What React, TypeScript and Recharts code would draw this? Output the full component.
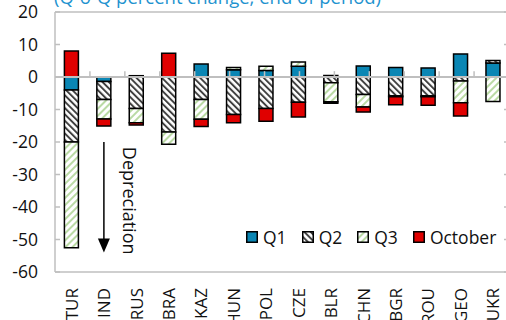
import React from 'react';
import {
  BarChart,
  Bar,
  XAxis,
  YAxis,
  ReferenceLine,
  ReferenceDot,
  Legend,
} from 'recharts';

// Exchange-rate change by quarter, percent (Q-o-Q, end of period)
const categories = ['TUR', 'IND', 'RUS', 'BRA', 'KAZ', 'HUN', 'POL', 'CZE', 'BLR', 'CHN', 'BGR', 'ROU', 'GEO', 'UKR'];
const q1 = [-4, -1.4, 0.4, 0, 4, 2.2, 2, 3.3, 0.5, 3.4, 2.9, 2.8, 7.1, 4.3];
const q2 = [-16, -5.5, -9.7, -16.9, -6.9, -11.5, -9.7, -7.8, -1.8, -5.4, -5.8, -5.8, -1.2, 0.8];
const q3 = [-32.5, -6, -4.4, -3.8, -6.1, 0.7, 1.3, 1.3, -5.8, -3.8, -0.3, -0.3, -6.7, -7.5];
const october = [8, -2.2, -0.7, 7.3, -2.2, -2.6, -3.9, -4.5, -0.5, -1.6, -2.4, -2.6, -4.1, 0];
const yTicks = [20, 10, 0, -10, -20, -30, -40, -50, -60];

const data = categories.map((name, i) => ({
  name,
  q1: q1[i],
  q2: q2[i],
  q3: q3[i],
  oct: october[i],
}));

const FONT = '"Open Sans", "Noto Sans", sans-serif';
const FRAME = '#bfbfbf';
const TEXT = '#111';

const series = [
  { key: 'q1', name: 'Q1', fill: '#0a86b4' },
  { key: 'q2', name: 'Q2', fill: 'url(#hatchQ2)' },
  { key: 'q3', name: 'Q3', fill: 'url(#hatchQ3)' },
  { key: 'oct', name: 'October', fill: '#e00000' },
];

const CategoryTick = (props: any) => {
  const { x, y, payload } = props;
  return (
    <text
      x={x}
      y={y}
      transform={`rotate(-90 ${x} ${y})`}
      textAnchor="end"
      dominantBaseline="central"
      fontSize={17}
      fontFamily={FONT}
      fill={TEXT}
    >
      {payload.value}
    </text>
  );
};

const DownArrow = (p: any) => {
  const { x1, y1, x2, y2 } = p;
  const head = 14;
  return (
    <g>
      <line x1={x1} y1={y1} x2={x2} y2={y2 - head + 1} stroke="#000" strokeWidth={1.5} />
      <path d={`M${x2 - 6},${y2 - head} L${x2 + 6},${y2 - head} L${x2},${y2} Z`} fill="#000" />
    </g>
  );
};

const VerticalNote = (p: any) => {
  const { cx, cy } = p;
  return (
    <text
      x={cx}
      y={cy}
      transform={`rotate(90 ${cx} ${cy})`}
      dominantBaseline="central"
      fontSize={18}
      fontFamily={FONT}
      fill={TEXT}
    >
      Depreciation
    </text>
  );
};

const LegendContent = (props: any) => {
  const payload: any[] = props.payload || [];
  const entries = series.map((s) => {
    const found = payload.find((p: any) => p.value === s.name);
    return { value: s.name, color: found && found.color ? found.color : s.fill };
  });
  return (
    <div style={{ display: 'flex', alignItems: 'center', gap: 15, fontFamily: FONT, fontSize: 17.5, color: TEXT, whiteSpace: 'nowrap' }}>
      {entries.map((entry) => (
        <span key={entry.value} style={{ display: 'flex', alignItems: 'center', gap: 5 }}>
          <svg width={12} height={12} style={{ display: 'block' }}>
            <rect x={0.75} y={0.75} width={10.5} height={10.5} fill={entry.color} stroke="#000" strokeWidth={1.5} />
          </svg>
          <span>{entry.value}</span>
        </span>
      ))}
    </div>
  );
};

export default function App() {
  // category i occupies [i, i + 1] on the index axis
  const boundaries = categories.slice(1).map((_, i) => i + 1);
  return (
    <div style={{ position: 'fixed', left: 0, top: 0, width: 506, height: 320, overflow: 'hidden', background: '#fff' }}>
      <div
        style={{
          position: 'absolute',
          left: 54,
          top: -15,
          fontFamily: FONT,
          fontSize: 18.5,
          lineHeight: '24px',
          color: '#1f93cf',
          whiteSpace: 'nowrap',
        }}
      >
        (Q-o-Q percent change, end of period)
      </div>
      <BarChart
        width={520}
        height={340}
        data={data}
        stackOffset="sign"
        barCategoryGap="29%"
        margin={{ top: 12, right: 10, bottom: 0, left: 0 }}
      >
        <defs>
          <pattern id="hatchQ2" width="4.5" height="4.5" patternUnits="userSpaceOnUse" patternTransform="rotate(-45)">
            <rect width="4.5" height="4.5" fill="#fff" />
            <line x1="1" y1="0" x2="1" y2="4.5" stroke="#3a3a3a" strokeWidth="1.9" />
          </pattern>
          <pattern id="hatchQ3" width="5" height="5" patternUnits="userSpaceOnUse" patternTransform="rotate(45)">
            <rect width="5" height="5" fill="#fff" />
            <line x1="1" y1="0" x2="1" y2="5" stroke="#a9d18e" strokeWidth="1.6" />
          </pattern>
        </defs>
        <XAxis
          dataKey="name"
          height={68}
          axisLine={{ stroke: FRAME, strokeWidth: 1.5 }}
          tickLine={false}
          tickSize={0}
          tickMargin={16}
          interval={0}
          tick={<CategoryTick />}
        />
        <XAxis xAxisId="idx" type="number" domain={[0, categories.length]} hide allowDataOverflow />
        <YAxis
          width={55}
          domain={[-60, 20]}
          ticks={yTicks}
          interval={0}
          allowDataOverflow
          axisLine={{ stroke: FRAME, strokeWidth: 1.5 }}
          tickLine={{ stroke: FRAME, strokeWidth: 1.5 }}
          tickSize={-5}
          tickMargin={22}
          tick={{ fontSize: 17.5, fontFamily: FONT, fill: TEXT }}
        />
        <YAxis
          yAxisId="right"
          orientation="right"
          width={1}
          domain={[-60, 20]}
          ticks={yTicks}
          interval={0}
          allowDataOverflow
          axisLine={{ stroke: FRAME, strokeWidth: 1.5 }}
          tickLine={{ stroke: FRAME, strokeWidth: 1.5 }}
          tickSize={-5}
          tick={() => <g />}
        />
        <ReferenceLine y={20} stroke={FRAME} strokeWidth={1.5} />
        <ReferenceLine y={0} stroke={FRAME} strokeWidth={2} />
        {boundaries.map((b) => (
          <ReferenceLine
            key={b}
            xAxisId="idx"
            segment={[{ x: b, y: 0 }, { x: b, y: 1.8 }]}
            stroke={FRAME}
            strokeWidth={1.5}
          />
        ))}
        {series.map((s) => (
          <Bar
            key={s.key}
            dataKey={s.key}
            name={s.name}
            stackId="fx"
            fill={s.fill}
            stroke="#000"
            strokeWidth={1.5}
            isAnimationActive={false}
          />
        ))}
        <ReferenceLine
          xAxisId="idx"
          segment={[{ x: 1.4, y: -20 }, { x: 1.4, y: -54 }]}
          shape={<DownArrow />}
        />
        <ReferenceDot xAxisId="idx" x={2.15} y={-21.5} r={0} shape={<VerticalNote />} />
        <Legend
          layout="horizontal"
          verticalAlign="middle"
          align="center"
          content={<LegendContent />}
          wrapperStyle={{ left: 246, top: 225, width: 'auto' }}
        />
      </BarChart>
    </div>
  );
}
